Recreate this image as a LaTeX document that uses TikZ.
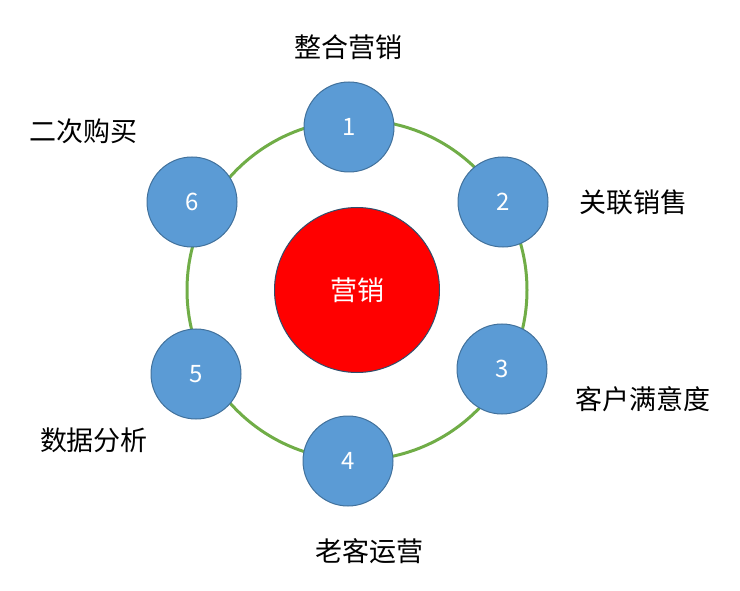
\documentclass[tikz,border=0pt]{standalone}
\usepackage{fontspec}
\setmainfont{Noto Sans CJK SC}
\usetikzlibrary{positioning}
\definecolor{ballblue}{HTML}{5B9BD5}
\definecolor{balledge}{HTML}{41719C}
\definecolor{ringgreen}{HTML}{70AD47}
\tikzset{ball/.style={circle, minimum size=90pt, inner sep=0pt, draw=balledge, line width=1pt, fill=ballblue, text=white, font=\fontsize{24}{26}\selectfont}}
\tikzset{lbl/.style={font=\fontsize{27}{30}\selectfont}}

\begin{document}
\begin{tikzpicture}[x=1pt, y=-1pt]
	\useasboundingbox (0,0) rectangle (740,591);
	\draw[ringgreen, line width=3pt] (357,290) circle (170);
	
	\node[circle, minimum size=165pt, draw=balledge!70!black, line width=1pt, fill=red, text=white, font=\fontsize{27}{30}\selectfont] (core) at (357,290){营销};
	
	\node[ball] (b1) at (349,127){1};
	\node[ball] (b2) at (503,202){2};
	\node[ball] (b3) at (502,369){3};
	\node[ball] (b4) at (348,461){4};
	\node[ball] (b5) at (196,374){5};
	\node[ball] (b6) at (192,202){6};
	
	\node[lbl] (t1) at (348,47){整合营销};
	\node[lbl] (t2) at (633,202){关联销售};
	\node[lbl] (t3) at (643,399){客户满意度};
	\node[lbl] (t4) at (369,551){老客运营};
	\node[lbl] (t5) at (94,440){数据分析};
	\node[lbl] (t6) at (84,131){二次购买};
\end{tikzpicture}
\end{document}
